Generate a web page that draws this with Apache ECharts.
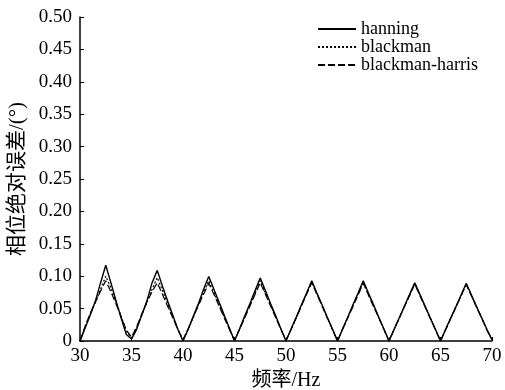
<!DOCTYPE html>
<html>
<head>
<meta charset="utf-8">
<script src="https://cdn.jsdelivr.net/npm/echarts@6/dist/echarts.min.js"></script>
<style>
html,body{margin:0;padding:0;background:#fff;}
#chart{width:505px;height:390px;}
</style>
</head>
<body>
<div id="chart"></div>
<script>
var freq = [
	30, 30.5, 31, 31.5, 32, 32.5, 33, 33.5, 34, 34.5,
	35, 35.5, 36, 36.5, 37, 37.5, 38, 38.5, 39, 39.5,
	40, 40.5, 41, 41.5, 42, 42.5, 43, 43.5, 44, 44.5,
	45, 45.5, 46, 46.5, 47, 47.5, 48, 48.5, 49, 49.5,
	50, 50.5, 51, 51.5, 52, 52.5, 53, 53.5, 54, 54.5,
	55, 55.5, 56, 56.5, 57, 57.5, 58, 58.5, 59, 59.5,
	60, 60.5, 61, 61.5, 62, 62.5, 63, 63.5, 64, 64.5,
	65, 65.5, 66, 66.5, 67, 67.5, 68, 68.5, 69, 69.5,
	70
];
var hanning = [
	0, 0.020, 0.040, 0.062, 0.090, 0.117, 0.090, 0.062, 0.035, 0.010,
	0.003, 0.018, 0.040, 0.062, 0.090, 0.109, 0.085, 0.062, 0.040, 0.018,
	0, 0.018, 0.038, 0.058, 0.080, 0.0995, 0.080, 0.060, 0.040, 0.020,
	0, 0.019, 0.039, 0.058, 0.078, 0.097, 0.078, 0.058, 0.039, 0.019,
	0, 0.019, 0.037, 0.056, 0.074, 0.093, 0.074, 0.056, 0.037, 0.019,
	0, 0.019, 0.037, 0.056, 0.074, 0.093, 0.074, 0.056, 0.037, 0.019,
	0, 0.018, 0.036, 0.054, 0.072, 0.090, 0.072, 0.054, 0.036, 0.018,
	0, 0.018, 0.036, 0.053, 0.071, 0.089, 0.071, 0.053, 0.036, 0.018,
	0.002
];
var blackman = [
	0, 0.022, 0.042, 0.060, 0.080, 0.100, 0.082, 0.060, 0.038, 0.015,
	0.005, 0.020, 0.040, 0.060, 0.080, 0.098, 0.078, 0.058, 0.038, 0.018,
	0.001, 0.018, 0.037, 0.056, 0.075, 0.093, 0.075, 0.056, 0.037, 0.019,
	0.001, 0.019, 0.037, 0.056, 0.074, 0.093, 0.074, 0.056, 0.037, 0.019,
	0.001, 0.018, 0.036, 0.055, 0.073, 0.091, 0.073, 0.055, 0.036, 0.018,
	0, 0.018, 0.036, 0.055, 0.073, 0.091, 0.073, 0.055, 0.036, 0.018,
	0, 0.018, 0.036, 0.053, 0.071, 0.089, 0.071, 0.053, 0.036, 0.018,
	0, 0.018, 0.035, 0.053, 0.070, 0.088, 0.070, 0.053, 0.035, 0.018,
	0.002
];
var blackmanHarris = [
	0, 0.023, 0.043, 0.060, 0.077, 0.093, 0.076, 0.057, 0.037, 0.017,
	0.006, 0.022, 0.042, 0.060, 0.076, 0.090, 0.072, 0.054, 0.036, 0.018,
	0.002, 0.019, 0.037, 0.055, 0.072, 0.089, 0.072, 0.054, 0.036, 0.018,
	0.001, 0.018, 0.036, 0.054, 0.072, 0.090, 0.072, 0.054, 0.036, 0.018,
	0.001, 0.018, 0.036, 0.054, 0.072, 0.090, 0.072, 0.054, 0.036, 0.018,
	0, 0.018, 0.036, 0.053, 0.071, 0.089, 0.071, 0.053, 0.036, 0.018,
	0, 0.018, 0.035, 0.053, 0.070, 0.088, 0.070, 0.053, 0.035, 0.018,
	0, 0.017, 0.035, 0.052, 0.070, 0.087, 0.070, 0.052, 0.035, 0.017,
	0.002
];
var names = ['hanning', 'blackman', 'blackman-harris'];

function pairs(ys) {
	return freq.map(function(x, i) { return [x, ys[i]]; });
}

var font = '"Liberation Serif", "Noto Sans CJK SC", serif';
var myChart = echarts.init(document.getElementById('chart'));
var option = {
	animation: false,
	grid: { left: 80, right: 13, top: 17, bottom: 49, outerBoundsMode: 'none' },
	legend: {
		orient: 'vertical',
		right: 22,
		top: 15,
		itemWidth: 38,
		itemHeight: 10,
		itemGap: 0,
		itemStyle: { opacity: 0 },
		textStyle: { fontFamily: font, fontSize: 18, lineHeight: 18, color: '#000' },
		data: names
	},
	xAxis: {
		type: 'value',
		min: 30, max: 70, interval: 5,
		name: '频率/Hz',
		nameLocation: 'middle',
		nameGap: 29,
		nameTextStyle: { fontFamily: font, fontSize: 20, color: '#000' },
		axisLine: { lineStyle: { color: '#000', width: 1.5 } },
		axisTick: { inside: true, length: 4, lineStyle: { color: '#000' } },
		axisLabel: { fontFamily: font, fontSize: 19, color: '#000', margin: 6 },
		splitLine: { show: false }
	},
	yAxis: {
		type: 'value',
		min: 0, max: 0.5, interval: 0.05,
		name: '相位绝对误差/(°)',
		nameLocation: 'middle',
		nameGap: 52,
		nameTextStyle: { fontFamily: font, fontSize: 21, color: '#000' },
		axisLine: { show: true, lineStyle: { color: '#000', width: 1.5 } },
		axisTick: { show: true, inside: true, length: 4, lineStyle: { color: '#000' } },
		axisLabel: {
			fontFamily: font, fontSize: 19, color: '#000', margin: 8,
			formatter: function(v) { return v === 0 ? '0' : v.toFixed(2); }
		},
		splitLine: { show: false }
	},
	series: [
		{
			name: names[0], type: 'line', symbol: 'none',
			lineStyle: { color: '#000', width: 1.4, type: 'solid' },
			itemStyle: { color: '#000' },
			data: pairs(hanning)
		},
		{
			name: names[1], type: 'line', symbol: 'none',
			lineStyle: { color: '#000', width: 1.2, type: [2, 2] },
			itemStyle: { color: '#000' },
			data: pairs(blackman)
		},
		{
			name: names[2], type: 'line', symbol: 'none',
			lineStyle: { color: '#000', width: 1.2, type: [7, 3] },
			itemStyle: { color: '#000' },
			data: pairs(blackmanHarris)
		}
	]
};
myChart.setOption(option);
window.addEventListener("resize", function() {
	myChart.resize();
});
</script>
</body>
</html>
